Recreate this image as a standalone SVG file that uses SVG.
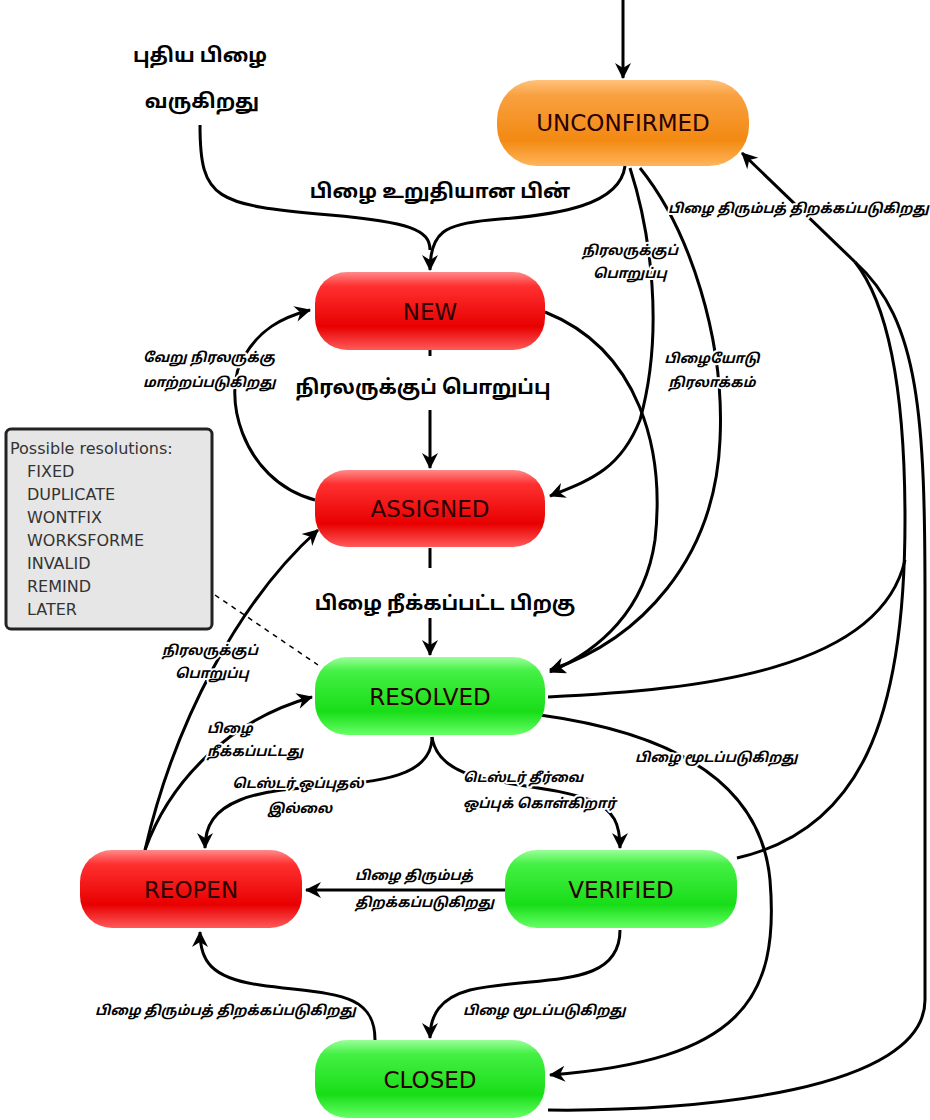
<svg xmlns="http://www.w3.org/2000/svg" width="930" height="1120" viewBox="0 0 930 1120">
<style>
.c{fill:none;stroke:#000;stroke-width:3}
.a{marker-end:url(#ah)}
.nl{font-family:"DejaVu Sans","Noto Sans",sans-serif;font-size:23px;fill:#2a0000;text-anchor:middle}
.s{font-family:"Noto Sans Tamil","Lohit Tamil","Noto Sans","DejaVu Sans",sans-serif;font-size:13.6px;font-weight:bold;font-style:italic;fill:#000;stroke:#fff;stroke-width:4;paint-order:stroke;stroke-linejoin:round}
.b{font-family:"Noto Sans Tamil","Lohit Tamil","Noto Sans","DejaVu Sans",sans-serif;font-size:20px;font-weight:bold;fill:#000;stroke:#fff;stroke-width:4;paint-order:stroke;stroke-linejoin:round}
.m{text-anchor:middle}
.r{font-family:"DejaVu Sans","Noto Sans",sans-serif;font-size:16px;fill:#333}
</style>
<defs>
<marker id="ah" viewBox="-16 -9 18 18" refX="0" refY="0" markerWidth="18" markerHeight="18" markerUnits="userSpaceOnUse" orient="auto">
<path d="M1,0 L-15,-8 L-10,0 L-15,8 Z" fill="#000"/>
</marker>
<linearGradient id="gr" x1="0" y1="0" x2="0" y2="1">
<stop offset="0" stop-color="#ff8a8a"/><stop offset="0.18" stop-color="#ff3030"/><stop offset="0.7" stop-color="#e80000"/><stop offset="1" stop-color="#ff5a5a"/>
</linearGradient>
<linearGradient id="gg" x1="0" y1="0" x2="0" y2="1">
<stop offset="0" stop-color="#9aff9a"/><stop offset="0.18" stop-color="#44f044"/><stop offset="0.7" stop-color="#18dd18"/><stop offset="1" stop-color="#66ff66"/>
</linearGradient>
<linearGradient id="go" x1="0" y1="0" x2="0" y2="1">
<stop offset="0" stop-color="#ffc27a"/><stop offset="0.18" stop-color="#f9a040"/><stop offset="0.7" stop-color="#f28a12"/><stop offset="1" stop-color="#ffb45a"/>
</linearGradient>
</defs>

<g id="connectors">
<path class="c a" d="M623,0 L623,78"/>
<path class="c" d="M200,125 C200,200 215,205 330,215 C410,222 430,230 430,250"/>
<path class="c a" d="M625,166 C620,205 560,215 490,220 C445,224 430,232 430,270"/>
<path class="c a" d="M630,168 C650,230 665,330 640,420 C620,470 590,480 550,496"/>
<path class="c a" d="M640,168 C690,230 725,340 720,440 C715,560 640,640 550,670"/>
<path class="c a" d="M545,312 C640,350 665,450 655,540 C645,610 600,650 550,672"/>
<path class="c a" d="M855,262 L742,153"/>
<path class="c" d="M855,262 C920,320 925,420 925,600 L925,1000 C925,1090 700,1112 548,1110"/>
<path class="c" d="M737,858 C860,830 905,720 905,520 C905,380 885,300 855,262"/>
<path class="c" d="M548,697 C700,690 880,670 905,560"/>
<path class="c a" d="M540,715 C650,730 760,770 770,880 C780,1000 740,1060 550,1075"/>
<path class="c a" d="M315,500 C240,480 220,390 245,355 C260,330 280,318 310,310"/>
<path class="c a" d="M430,410 L430,468"/>
<path class="c" d="M430,350 L430,356"/>
<path class="c" d="M430,548 L430,568"/>
<path class="c a" d="M430,618 L430,655"/>
<path class="c a" d="M145,850 C175,720 240,600 318,530"/>
<path class="c a" d="M145,850 C170,780 230,720 312,697"/>
<path class="c a" d="M432,737 C432,800 300,775 240,800 C215,810 205,825 205,848"/>
<path class="c a" d="M432,737 C440,790 530,778 590,800 C615,810 620,825 620,848"/>
<path class="c a" d="M505,890 L306,890"/>
<path class="c a" d="M620,930 C620,990 540,975 470,990 C440,998 430,1015 430,1038"/>
<path class="c a" d="M375,1040 C375,990 330,995 260,985 C210,978 200,960 200,932"/>
<path d="M215,595 L318,665" fill="none" stroke="#000" stroke-width="1.5" stroke-dasharray="5,5"/>
</g>

<g id="labels">
<text class="b m" x="200" y="62" font-size="22">புதிய பிழை</text>
<text class="b m" x="202" y="108" font-size="22">வருகிறது</text>
<text class="b m" x="440" y="198" font-size="22">பிழை உறுதியான பின்</text>
<text class="s" x="668" y="213">பிழை திரும்பத் திறக்கப்படுகிறது</text>
<text class="s m" x="630" y="255">நிரலருக்குப்</text>
<text class="s m" x="630" y="278">பொறுப்பு</text>
<text class="s m" x="712" y="363">பிழையோடு</text>
<text class="s m" x="712" y="387">நிரலாக்கம்</text>
<text class="s" x="143" y="362">வேறு நிரலருக்கு</text>
<text class="s" x="143" y="387">மாற்றப்படுகிறது</text>
<text class="b m" x="423" y="394">நிரலருக்குப் பொறுப்பு</text>
<text class="b m" x="445" y="610">பிழை நீக்கப்பட்ட பிறகு</text>
<text class="s m" x="210" y="655">நிரலருக்குப்</text>
<text class="s m" x="212" y="678">பொறுப்பு</text>
<text class="s" x="207" y="733">பிழை</text>
<text class="s" x="207" y="756">நீக்கப்பட்டது</text>
<text class="s m" x="298" y="788">டெஸ்டர் ஒப்புதல்</text>
<text class="s m" x="300" y="813">இல்லை</text>
<text class="s" x="463" y="782">டெஸ்டர் தீர்வை</text>
<text class="s" x="463" y="808">ஒப்புக் கொள்கிறார்</text>
<text class="s" x="635" y="762">பிழை மூடப்படுகிறது</text>
<text class="s" x="355" y="880">பிழை திரும்பத்</text>
<text class="s" x="355" y="907">திறக்கப்படுகிறது</text>
<text class="s" x="95" y="1015">பிழை திரும்பத் திறக்கப்படுகிறது</text>
<text class="s" x="463" y="1015">பிழை மூடப்படுகிறது</text>
</g>

<g id="resolutions">
<rect x="6" y="429" width="206" height="200" rx="5" fill="#e6e6e6" stroke="#222" stroke-width="3"/>
<text class="r" x="10" y="454">Possible resolutions:</text>
<text class="r" x="27" y="477">FIXED</text>
<text class="r" x="27" y="500">DUPLICATE</text>
<text class="r" x="27" y="523">WONTFIX</text>
<text class="r" x="27" y="546">WORKSFORME</text>
<text class="r" x="27" y="569">INVALID</text>
<text class="r" x="27" y="592">REMIND</text>
<text class="r" x="27" y="615">LATER</text>
</g>

<g id="unconfirmed">
<rect x="497" y="80" width="252" height="86" rx="40" fill="url(#go)"/>
<text class="nl" x="623" y="131">UNCONFIRMED</text>
</g>
<g id="new">
<rect x="315" y="272" width="230" height="78" rx="32" fill="url(#gr)"/>
<text class="nl" x="430" y="320">NEW</text>
</g>
<g id="assigned">
<rect x="315" y="470" width="230" height="77" rx="32" fill="url(#gr)"/>
<text class="nl" x="430" y="517">ASSIGNED</text>
</g>
<g id="resolved">
<rect x="315" y="657" width="230" height="78" rx="32" fill="url(#gg)"/>
<text class="nl" x="430" y="705">RESOLVED</text>
</g>
<g id="reopen">
<rect x="80" y="850" width="222" height="78" rx="32" fill="url(#gr)"/>
<text class="nl" x="191" y="898">REOPEN</text>
</g>
<g id="verified">
<rect x="505" y="850" width="232" height="78" rx="32" fill="url(#gg)"/>
<text class="nl" x="621" y="898">VERIFIED</text>
</g>
<g id="closed">
<rect x="315" y="1040" width="230" height="78" rx="32" fill="url(#gg)"/>
<text class="nl" x="430" y="1088">CLOSED</text>
</g>
</svg>
